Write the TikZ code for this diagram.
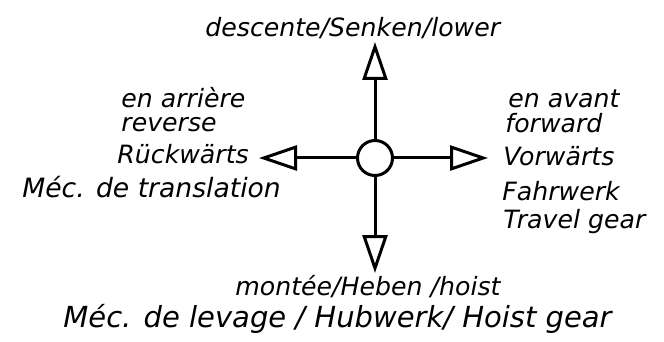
\documentclass[tikz,border=0pt]{standalone}
\usepackage{fontspec}
\setmainfont{DejaVu Sans}
\usetikzlibrary{arrows.meta}

\begin{document}
\begin{tikzpicture}[x=0.5pt,y=-0.5pt,
		lbl/.style={anchor=base west,inner sep=0pt,font=\fontsize{12.6}{15}\selectfont\itshape},
		dir/.style={line width=1.5pt,-{Triangle[open,length=19pt,width=12.5pt]}}]
			\useasboundingbox (0,0) rectangle (664,342);
			\node[circle,draw,line width=1.5pt,minimum size=17.5pt,inner sep=0pt] (hub) at (375,158) {};
			\coordinate (up) at (375,42);
			\coordinate (down) at (375,273);
			\coordinate (back) at (259,158);
			\coordinate (fwd) at (488,158);
			\draw[dir] (hub) -- (up);
			\draw[dir] (hub) -- (down);
			\draw[dir] (hub) -- (back);
			\draw[dir] (hub) -- (fwd);
			% labels
			\node[lbl] (lower) at (205,37) {descente/Senken/lower};
			\node[lbl] (rev1) at (121,108) {en arrière};
			\node[lbl] (rev2) at (121,132) {reverse};
			\node[lbl] (rev3) at (117,163) {Rückwärts};
			\node[lbl,font=\fontsize{13.3}{15}\selectfont\itshape] (travelfr) at (22,198) {Méc. de translation};
			\node[lbl] (fwd1) at (508,108) {en avant};
			\node[lbl] (fwd2) at (505,133) {forward};
			\node[lbl] (fwd3) at (503,165) {Vorwärts};
			\node[lbl] (travelde) at (502,200) {Fahrwerk};
			\node[lbl] (travelen) at (503,228) {Travel gear};
			\node[lbl] (hoist) at (235,295) {montée/Heben /hoist};
			\node[lbl,font=\fontsize{14.5}{17}\selectfont\itshape] (hoistgear) at (63,327) {Méc. de levage / Hubwerk/ Hoist gear};
			\end{tikzpicture}
\end{document}
